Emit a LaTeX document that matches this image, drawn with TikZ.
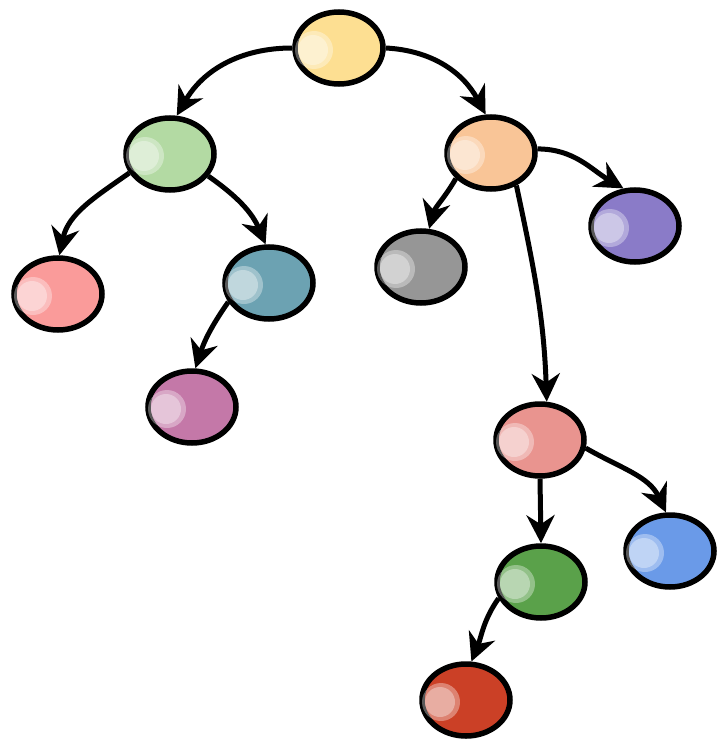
\documentclass[tikz,border=0pt]{standalone}
\usetikzlibrary{shapes.geometric,arrows.meta}
\definecolor{cyellow}{HTML}{FDDF92}
\definecolor{clgreen}{HTML}{B3DAA3}
\definecolor{corange}{HTML}{F9C597}
\definecolor{cpink}{HTML}{FA9B9A}
\definecolor{cteal}{HTML}{6CA2B2}
\definecolor{cgray}{HTML}{969696}
\definecolor{cpurple}{HTML}{8A7BC8}
\definecolor{cmauve}{HTML}{C478A8}
\definecolor{csalmon}{HTML}{E9948F}
\definecolor{cblue}{HTML}{6A9AE8}
\definecolor{cgreen}{HTML}{5AA14A}
\definecolor{cred}{HTML}{CB4026}
\tikzset{
  ball/.style={ellipse, draw=black, line width=5.5pt, fill=#1,
    minimum width=88pt, minimum height=72pt, inner sep=0pt},
  edge/.style={line width=5pt, -{Stealth[length=28pt,width=28pt,inset=9pt]}},
  shine/.style={fill=white, opacity=0.35}
}
\newcommand{\hilite}[1]{%
  \fill[shine] ([shift={(-25pt,-2pt)}]#1.center) circle (19pt);
  \fill[shine] ([shift={(-26pt,-2pt)}]#1.center) circle (15pt);
}
\begin{document}
\begin{tikzpicture}[x=1pt,y=1pt]
\useasboundingbox (0,0) rectangle (718,-741);
\node[ball=cyellow]  (Y)  at (339,-48)  {};
\node[ball=clgreen]  (LG) at (170,-154) {};
\node[ball=corange]  (O)  at (491,-153) {};
\node[ball=cpink]    (P)  at (58,-294)  {};
\node[ball=cteal]    (T)  at (269,-283) {};
\node[ball=cgray]    (G)  at (421,-267) {};
\node[ball=cpurple]  (Pu) at (635,-226) {};
\node[ball=cmauve]   (M)  at (192,-407) {};
\node[ball=csalmon]  (S)  at (540,-440) {};
\node[ball=cblue]    (B)  at (670,-551) {};
\node[ball=cgreen]   (Gr) at (541,-582) {};
\node[ball=cred]     (R)  at (466,-700) {};
\foreach \n in {Y,LG,O,P,T,G,Pu,M,S,B,Gr,R} {\hilite{\n}}
\draw[edge] (Y.west) to[out=180,in=60] (LG.80);
\draw[edge] (Y.east) to[out=-3,in=118] (O.98);
\draw[edge] (LG.205) to[out=215,in=78] (P.88);
\draw[edge] (LG.-30) to[out=-35,in=113] (T.95);
\draw[edge] (T.205) to[out=235,in=72] (M.85);
\draw[edge] (O.216) to[out=240,in=75] (G.78);
\draw[edge] (O.5) to[out=0,in=150] (Pu.107);
\draw[edge] (O.-52) to[out=-78,in=92] (S.80);
\draw[edge] (S.-10) to[out=-30,in=115] (B.96);
\draw[edge] (S.south) -- (Gr.north);
\draw[edge] (Gr.201) to[out=235,in=68] (R.82);
\end{tikzpicture}
\end{document}
